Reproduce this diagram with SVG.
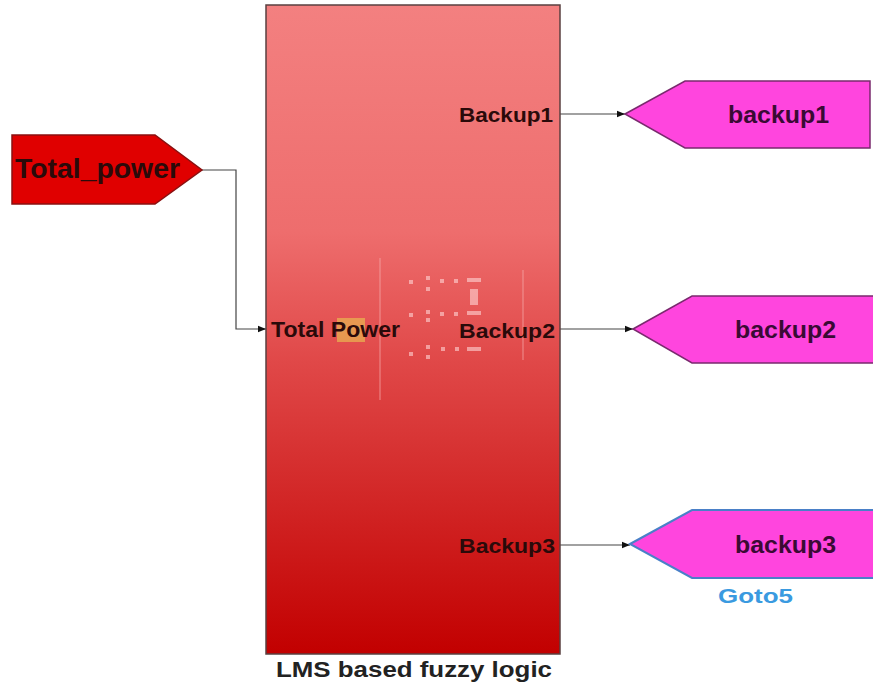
<svg xmlns="http://www.w3.org/2000/svg" width="873" height="691" viewBox="0 0 873 691">
<style>
.lbl{font-family:"Liberation Sans",Arial,sans-serif;font-weight:bold;fill:#2a0a0a}
.goto{fill:#ff45de;stroke:#7a2a6e;stroke-width:1.5}
.gtxt{font-family:"Liberation Sans",Arial,sans-serif;font-weight:bold;font-size:24px;fill:#3a0a34}
.wire{fill:none;stroke:#444;stroke-width:1.2}
.dot{fill:#ffd6d6;opacity:0.85}
</style>
<defs>
<linearGradient id="blk" x1="0" y1="0" x2="0" y2="1">
<stop offset="0" stop-color="#f38080"/>
<stop offset="0.35" stop-color="#ee6d6d"/>
<stop offset="0.55" stop-color="#e04848"/>
<stop offset="1" stop-color="#c20000"/>
</linearGradient>
<marker id="arr" viewBox="0 0 10 10" refX="10" refY="5" markerWidth="8" markerHeight="8" markerUnits="userSpaceOnUse" orient="auto">
<path d="M0,1 L10,5 L0,9 z" fill="#111"/>
</marker>
</defs>
<rect width="873" height="691" fill="#ffffff"/>

<g id="connectors">
<path class="wire" d="M202,170 H236 V329 H266" marker-end="url(#arr)"/>
<path class="wire" d="M560,114 H625" marker-end="url(#arr)"/>
<path class="wire" d="M560,329 H633" marker-end="url(#arr)"/>
<path class="wire" d="M560,545 H630" marker-end="url(#arr)"/>
</g>

<g id="lms_block">
<rect x="266" y="5" width="294" height="649" fill="url(#blk)" stroke="#5a4040" stroke-width="1.5"/>
<g id="icon" opacity="0.7">
<line x1="380" y1="258" x2="380" y2="400" stroke="#f7b0b0" stroke-width="1"/>
<line x1="523" y1="270" x2="523" y2="360" stroke="#f7b0b0" stroke-width="1"/>
<rect class="dot" x="409" y="280" width="4" height="4"/>
<rect class="dot" x="426" y="276" width="4" height="4"/>
<rect class="dot" x="426" y="287" width="4" height="4"/>
<rect class="dot" x="440" y="279" width="4" height="4"/>
<rect class="dot" x="454" y="279" width="4" height="4"/>
<rect class="dot" x="467" y="278" width="14" height="4"/>
<rect class="dot" x="470" y="289" width="8" height="16"/>
<rect class="dot" x="409" y="313" width="4" height="4"/>
<rect class="dot" x="426" y="310" width="4" height="4"/>
<rect class="dot" x="426" y="318" width="4" height="4"/>
<rect class="dot" x="440" y="312" width="4" height="4"/>
<rect class="dot" x="454" y="312" width="4" height="4"/>
<rect class="dot" x="467" y="311" width="14" height="4"/>
<rect class="dot" x="409" y="352" width="4" height="4"/>
<rect class="dot" x="426" y="345" width="4" height="4"/>
<rect class="dot" x="426" y="355" width="4" height="4"/>
<rect class="dot" x="441" y="347" width="4" height="4"/>
<rect class="dot" x="455" y="347" width="4" height="4"/>
<rect class="dot" x="467" y="347" width="14" height="4"/>
</g>
<rect x="337" y="318" width="28" height="24" fill="#e8b050" opacity="0.75"/>
<text class="lbl" x="271" y="337" font-size="22" textLength="129" lengthAdjust="spacingAndGlyphs">Total Power</text>
<text class="lbl" x="459" y="122" font-size="21" textLength="94" lengthAdjust="spacingAndGlyphs">Backup1</text>
<text class="lbl" x="459" y="338" font-size="21" textLength="96" lengthAdjust="spacingAndGlyphs">Backup2</text>
<text class="lbl" x="459" y="553" font-size="21" textLength="96" lengthAdjust="spacingAndGlyphs">Backup3</text>
<text x="276" y="677" font-family="Liberation Sans, Arial, sans-serif" font-weight="bold" font-size="22" fill="#222" textLength="276" lengthAdjust="spacingAndGlyphs">LMS based fuzzy logic</text>
</g>

<g id="from_total_power">
<polygon points="12,135 155,135 202,170 155,204 12,204" fill="#e00000" stroke="#8a1010" stroke-width="1.5"/>
<text class="lbl" x="15" y="178" font-size="27" textLength="165" lengthAdjust="spacingAndGlyphs" fill="#220000">Total_power</text>
</g>

<g id="goto_backup1">
<polygon class="goto" points="625,114 685,81 870,81 870,148 685,148"/>
<text class="gtxt" x="728" y="123" textLength="101" lengthAdjust="spacingAndGlyphs">backup1</text>
</g>

<g id="goto_backup2">
<polygon class="goto" points="633,329 692,296 880,296 880,363 692,363"/>
<text class="gtxt" x="735" y="338" textLength="101" lengthAdjust="spacingAndGlyphs">backup2</text>
</g>

<g id="goto_backup3">
<polygon points="630,544 692,510 880,510 880,578 692,578" fill="#ff45de" stroke="#4a80c8" stroke-width="2"/>
<text class="gtxt" x="735" y="553" textLength="101" lengthAdjust="spacingAndGlyphs">backup3</text>
<text x="718" y="603" font-family="Liberation Sans, Arial, sans-serif" font-weight="bold" font-size="21" fill="#3a9ae0" textLength="75" lengthAdjust="spacingAndGlyphs">Goto5</text>
</g>
</svg>
